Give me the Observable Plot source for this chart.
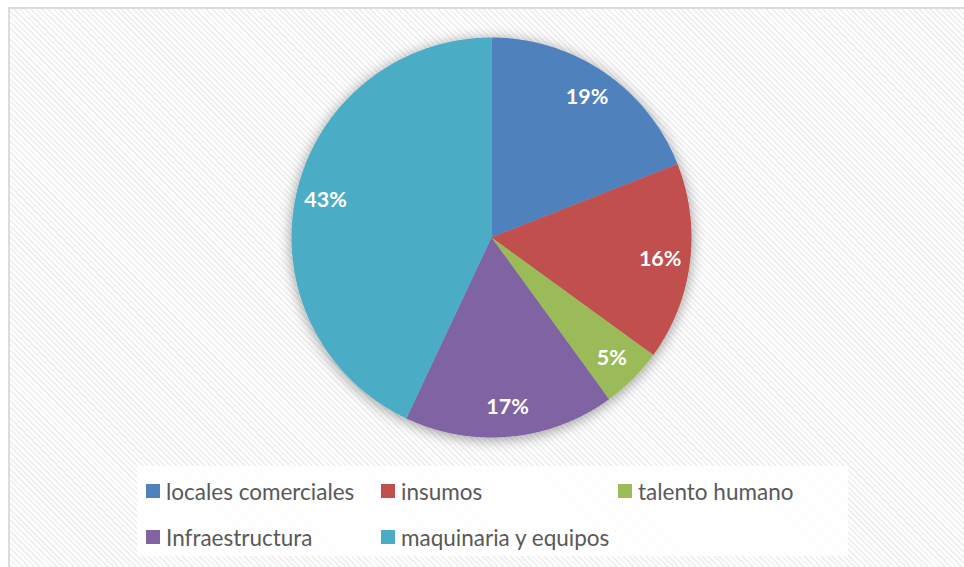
<!DOCTYPE html>
<html>
<head>
<meta charset="utf-8">
<script src="https://cdn.jsdelivr.net/npm/d3@7"></script>
<script src="https://cdn.jsdelivr.net/npm/@observablehq/plot@0.6"></script>
<style>
  html, body { margin: 0; padding: 0; background: #fff; }
  #wrap {
    position: relative; width: 964px; height: 567px; overflow: hidden;
    background: #fff;
  }
  #frame {
    position: absolute; left: 8px; top: 7px; width: 980px; height: 600px;
    border-left: 2px solid #dcdcdc; border-top: 2px solid #dcdcdc;
    background: repeating-linear-gradient(45deg, #ffffff 0px, #ffffff 2px, #f1f1f1 2px, #f1f1f1 4px);
  }
  #chart { position: absolute; left: 0; top: 0; }
  #legend {
    position: absolute; left: 137px; top: 466px; width: 711px; height: 90px;
    background: rgba(255,255,255,0.85);
    font-family: Lato, "Open Sans", sans-serif; font-size: 22.5px; color: #595959;
  }
  .item { position: absolute; display: flex; align-items: center; white-space: nowrap; }
  .sw { width: 14px; height: 14px; margin-right: 6px; }
</style>
</head>
<body>
<div id="wrap">
  <div id="frame"></div>
  <div id="chart"></div>
  <div id="legend"></div>
</div>
<script>
const categories = ["locales comerciales", "insumos", "talento humano", "Infraestructura", "maquinaria y equipos"];
const values = [19, 16, 5, 17, 43];
const labels = ["19%", "16%", "5%", "17%", "43%"];
const colors = ["#4F81BD", "#C0504D", "#9BBB59", "#8064A2", "#4BACC6"];

const arcs = d3.pie().sort(null).value(d => d.value)(
  categories.map((c, i) => ({category: c, value: values[i], label: labels[i]}))
);

function ring(a0, a1) {
  const pts = [[0, 0]];
  const n = Math.max(2, Math.ceil((a1 - a0) / (Math.PI / 360)));
  for (let k = 0; k <= n; k++) {
    const a = a0 + (a1 - a0) * k / n;
    pts.push([Math.sin(a), -Math.cos(a)]);
  }
  pts.push([0, 0]);
  return pts;
}

const slices = arcs.map(a => ({
  type: "Feature",
  properties: {category: a.data.category, label: a.data.label, mid: (a.startAngle + a.endAngle) / 2},
  geometry: {type: "Polygon", coordinates: [ring(a.startAngle, a.endAngle)]}
}));

const domain = {type: "Feature", geometry: {type: "Polygon", coordinates: [ring(0, 2 * Math.PI)]}};

const R = 0.85;
const chart = Plot.plot({
  width: 964,
  height: 567,
  marginLeft: 291,
  marginRight: 273,
  marginTop: 37,
  marginBottom: 130,
  projection: {type: "identity", domain},
  color: {domain: categories, range: colors},
  marks: [
    Plot.geo(slices, {fill: d => d.properties.category, stroke: "none"}),
    Plot.text(slices, {
      x: d => R * Math.sin(d.properties.mid),
      y: d => -R * Math.cos(d.properties.mid),
      text: d => d.properties.label,
      fill: "white",
      fontWeight: "bold",
      fontSize: 21.5,
      fontFamily: "Lato, 'Open Sans', sans-serif"
    })
  ],
  style: {background: "transparent", overflow: "visible"}
});

// soft shadow behind pie
const ns = "http://www.w3.org/2000/svg";
const defs = document.createElementNS(ns, "defs");
defs.innerHTML = `<filter id="sh" x="-20%" y="-20%" width="140%" height="140%">
  <feGaussianBlur in="SourceAlpha" stdDeviation="7"/>
  <feOffset dx="0" dy="2" result="b"/>
  <feComponentTransfer><feFuncA type="linear" slope="0.4"/></feComponentTransfer>
  <feMerge><feMergeNode/><feMergeNode in="SourceGraphic"/></feMerge>
</filter>`;
chart.insertBefore(defs, chart.firstChild);
const geoG = chart.querySelector('g[aria-label="geo"]');
if (geoG) geoG.setAttribute("filter", "url(#sh)");
document.getElementById("chart").appendChild(chart);

// legend
const pos = [[9, 25], [244, 25], [481, 25], [9, 71], [244, 71]];
const leg = document.getElementById("legend");
categories.forEach((c, i) => {
  const it = document.createElement("div");
  it.className = "item";
  it.style.left = pos[i][0] + "px";
  it.style.top = (pos[i][1] - 13) + "px";
  it.style.height = "26px";
  it.innerHTML = `<div class="sw" style="background:${colors[i]}"></div><span>${c}</span>`;
  leg.appendChild(it);
});
</script>
</body>
</html>
